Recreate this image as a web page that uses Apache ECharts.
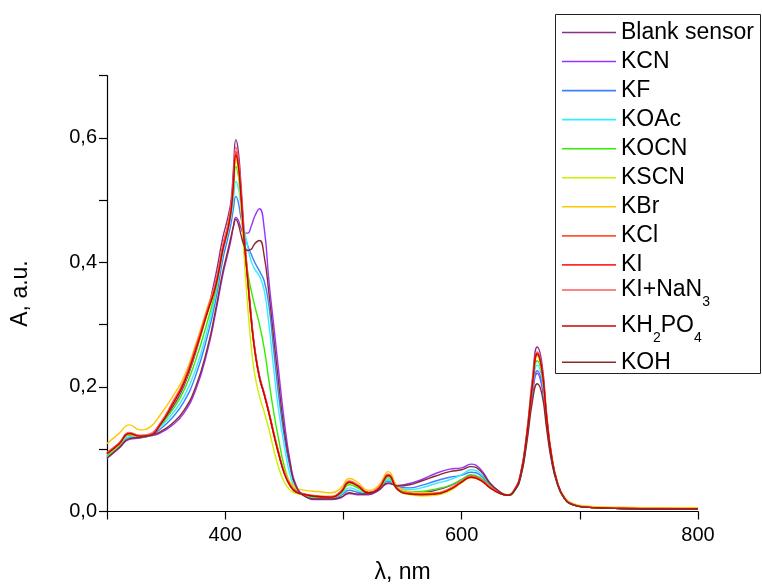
<!DOCTYPE html>
<html>
<head>
<meta charset="utf-8">
<script src="https://cdn.jsdelivr.net/npm/echarts@6/dist/echarts.min.js"></script>
<style>html,body{margin:0;padding:0;background:#fff;}#c{width:762px;height:585px;}</style>
</head>
<body>
<div id="c"></div>
<script>
// wavelength (nm)
const wl = [300,310,319,328,336,345,355,365,375,385,
 392,398,402,405,407,409,411,413,416,419,
 422,425,429,433,437,441,445,450,455,460,
 468,478,490,498,505,512,521,530,538,546,
 556,566,578,590,600,608,616,624,632,639,
 645,650,655,660,664,668,672,676,681,687,
 694,705,730,770,800];

const blank = [0.092,0.107,0.123,0.12,0.122,0.137,0.166,0.201,0.255,0.322,
 0.38,0.44,0.47,0.50,0.55,0.597,0.58,0.535,0.45,0.38,
 0.315,0.262,0.218,0.19,0.16,0.127,0.096,0.063,0.042,0.032,
 0.026,0.023,0.022,0.03,0.046,0.041,0.030,0.037,0.057,0.037,
 0.031,0.031,0.034,0.041,0.051,0.058,0.053,0.04,0.03,0.026,
 0.036,0.062,0.125,0.215,0.264,0.237,0.156,0.093,0.047,0.021,
 0.011,0.007,0.005,0.004,0.004];
const kcn = [0.085,0.101,0.116,0.118,0.121,0.126,0.138,0.158,0.195,0.258,
 0.32,0.38,0.412,0.437,0.458,0.472,0.468,0.457,0.447,0.447,
 0.458,0.474,0.486,0.455,0.37,0.30,0.23,0.145,0.08,0.042,
 0.024,0.019,0.019,0.022,0.029,0.027,0.027,0.034,0.045,0.042,
 0.045,0.051,0.061,0.068,0.07,0.076,0.068,0.046,0.032,0.026,
 0.034,0.057,0.113,0.19,0.222,0.2,0.14,0.085,0.045,0.021,
 0.011,0.007,0.005,0.004,0.004];
const kf = [0.087,0.103,0.119,0.12,0.122,0.132,0.15,0.176,0.218,0.282,
 0.34,0.405,0.437,0.463,0.487,0.506,0.497,0.475,0.447,0.427,
 0.413,0.4,0.386,0.37,0.33,0.26,0.19,0.12,0.07,0.04,
 0.025,0.021,0.021,0.026,0.034,0.031,0.029,0.036,0.049,0.039,
 0.038,0.042,0.049,0.055,0.058,0.063,0.058,0.042,0.031,0.026,
 0.034,0.057,0.115,0.193,0.226,0.206,0.142,0.086,0.045,0.021,
 0.011,0.007,0.005,0.004,0.004];
const koac = [0.088,0.104,0.12,0.12,0.122,0.136,0.156,0.184,0.228,0.292,
 0.35,0.415,0.447,0.474,0.502,0.53,0.52,0.495,0.455,0.425,
 0.402,0.389,0.378,0.355,0.3,0.23,0.165,0.105,0.058,0.036,
 0.025,0.022,0.022,0.028,0.038,0.034,0.029,0.037,0.051,0.038,
 0.035,0.038,0.045,0.051,0.059,0.067,0.061,0.044,0.031,0.026,
 0.034,0.058,0.117,0.198,0.235,0.213,0.145,0.088,0.045,0.021,
 0.011,0.007,0.005,0.004,0.004];
const kocn = [0.09,0.106,0.123,0.121,0.122,0.138,0.162,0.194,0.243,0.305,
 0.357,0.42,0.452,0.482,0.515,0.554,0.54,0.505,0.435,0.385,
 0.355,0.33,0.3,0.262,0.21,0.16,0.118,0.072,0.045,0.033,
 0.026,0.023,0.022,0.03,0.043,0.038,0.03,0.037,0.054,0.036,
 0.031,0.032,0.036,0.042,0.051,0.059,0.054,0.041,0.03,0.026,
 0.034,0.059,0.12,0.203,0.242,0.219,0.147,0.089,0.046,0.021,
 0.011,0.007,0.005,0.004,0.004];
const kscn = [0.092,0.107,0.124,0.12,0.122,0.14,0.17,0.205,0.258,0.318,
 0.362,0.42,0.45,0.483,0.525,0.565,0.548,0.5,0.41,0.33,
 0.265,0.22,0.185,0.16,0.132,0.1,0.072,0.047,0.034,0.029,
 0.027,0.025,0.024,0.032,0.046,0.041,0.03,0.037,0.058,0.034,
 0.027,0.025,0.026,0.033,0.046,0.054,0.05,0.038,0.029,0.026,
 0.034,0.06,0.122,0.207,0.25,0.224,0.149,0.09,0.046,0.022,
 0.012,0.008,0.006,0.006,0.006];
const kbr = [0.109,0.125,0.139,0.131,0.135,0.155,0.183,0.216,0.268,0.328,
 0.368,0.428,0.46,0.49,0.527,0.57,0.555,0.51,0.43,0.37,
 0.305,0.258,0.215,0.188,0.16,0.128,0.098,0.066,0.047,0.038,
 0.034,0.032,0.03,0.038,0.053,0.047,0.034,0.042,0.064,0.04,
 0.032,0.03,0.03,0.036,0.048,0.055,0.051,0.039,0.03,0.027,
 0.035,0.06,0.12,0.205,0.25,0.225,0.15,0.092,0.048,0.024,
 0.013,0.009,0.007,0.006,0.006];
const kcl = [0.094,0.109,0.126,0.122,0.124,0.141,0.171,0.207,0.26,0.321,
 0.364,0.423,0.453,0.486,0.53,0.575,0.56,0.518,0.438,0.373,
 0.308,0.258,0.214,0.187,0.157,0.124,0.094,0.061,0.041,0.031,
 0.027,0.024,0.023,0.032,0.047,0.042,0.030,0.038,0.058,0.035,
 0.029,0.028,0.029,0.036,0.047,0.055,0.051,0.039,0.030,0.026,
 0.035,0.06,0.119,0.204,0.252,0.226,0.149,0.089,0.046,0.021,
 0.011,0.007,0.005,0.004,0.004];
const ki = [0.093,0.108,0.125,0.121,0.123,0.140,0.172,0.208,0.262,0.322,
 0.366,0.425,0.455,0.488,0.533,0.578,0.562,0.52,0.44,0.375,
 0.31,0.26,0.215,0.188,0.158,0.125,0.095,0.062,0.042,0.032,
 0.027,0.024,0.023,0.032,0.048,0.042,0.030,0.038,0.059,0.036,
 0.029,0.028,0.029,0.036,0.048,0.056,0.051,0.039,0.030,0.026,
 0.036,0.06,0.12,0.205,0.254,0.228,0.15,0.09,0.046,0.021,
 0.011,0.007,0.005,0.004,0.004];
const kinan3 = [0.095,0.11,0.127,0.122,0.124,0.142,0.174,0.21,0.264,0.325,
 0.369,0.428,0.458,0.492,0.538,0.585,0.568,0.525,0.444,0.378,
 0.312,0.262,0.217,0.19,0.16,0.127,0.097,0.063,0.043,0.033,
 0.028,0.025,0.024,0.033,0.049,0.043,0.031,0.039,0.06,0.036,
 0.029,0.028,0.029,0.037,0.049,0.057,0.052,0.04,0.031,0.027,
 0.036,0.061,0.121,0.207,0.256,0.23,0.152,0.091,0.047,0.022,
 0.012,0.007,0.005,0.005,0.004];
const kh2po4 = [0.093,0.108,0.125,0.121,0.122,0.139,0.17,0.206,0.259,0.32,
 0.362,0.42,0.45,0.483,0.527,0.572,0.557,0.515,0.436,0.372,
 0.308,0.259,0.215,0.188,0.158,0.125,0.094,0.061,0.041,0.031,
 0.027,0.024,0.023,0.031,0.047,0.041,0.03,0.037,0.058,0.035,
 0.028,0.027,0.028,0.035,0.047,0.055,0.05,0.038,0.029,0.026,
 0.035,0.06,0.12,0.205,0.253,0.227,0.15,0.09,0.046,0.021,
 0.011,0.007,0.005,0.004,0.004];
const koh = [0.086,0.102,0.117,0.119,0.122,0.128,0.141,0.162,0.2,0.263,
 0.325,0.385,0.417,0.442,0.458,0.469,0.462,0.447,0.427,0.419,
 0.421,0.43,0.435,0.41,0.35,0.28,0.21,0.13,0.075,0.04,
 0.024,0.02,0.02,0.023,0.03,0.028,0.028,0.035,0.046,0.041,
 0.043,0.049,0.057,0.064,0.067,0.072,0.065,0.045,0.032,0.026,
 0.034,0.055,0.108,0.178,0.205,0.188,0.132,0.082,0.044,0.021,
 0.011,0.007,0.005,0.004,0.004];

const seriesNames = ['Blank sensor','KCN','KF','KOAc','KOCN','KSCN','KBr','KCl','KI','KI+NaN3','KH2PO4','KOH'];
const seriesValues = [blank,kcn,kf,koac,kocn,kscn,kbr,kcl,ki,kinan3,kh2po4,koh];
const seriesColors = ['#8e2c8e','#9933ff','#3f7fff','#33eeff','#33ee00','#ccf000','#ffc800','#ff5533','#ff2b2b','#ff5a5a','#cc0000','#8b2a2a'];
const xTicks = [400,600,800];
const yTicks = [0.0,0.2,0.4,0.6];

const FONT = '"Liberation Sans", Arial, sans-serif';
const legendLabel = {
  'KI+NaN3': 'KI+NaN{s|3}',
  'KH2PO4': 'KH{s|2}PO{s|4}'
};
const richSub = { s: { fontSize: 14, fontFamily: FONT, color: '#000', lineHeight: 38, padding: [24,0,0,0] } };

function makeLegend(names, top, gap) {
  return {
    data: names, orient: 'vertical', left: 562, top: top, padding: 0,
    icon: 'rect', itemWidth: 54, itemHeight: 1.6, itemGap: gap, selectedMode: false,
    formatter: n => legendLabel[n] || n,
    textStyle: { fontSize: 23, fontFamily: FONT, color: '#000', lineHeight: 22, rich: richSub }
  };
}

const chart = echarts.init(document.getElementById('c'), null, {renderer: 'canvas'});
chart.setOption({
  animation: false,
  backgroundColor: '#fff',
  grid: { left: 107, right: 64, top: 75.5, bottom: 73.5, containLabel: false, outerBoundsMode: 'none' },
  graphic: [{ type: 'rect', z: 0, silent: true,
    shape: { x: 555.5, y: 14.5, width: 205, height: 359 },
    style: { fill: 'transparent', stroke: '#222', lineWidth: 1 } }],
  legend: [
    makeLegend(seriesNames.slice(0, 9), 21, 6.05),
    makeLegend(['KI+NaN3'], 271, 0),
    makeLegend(['KH2PO4'], 307, 0),
    makeLegend(['KOH'], 350.7, 0)
  ],
  xAxis: {
    type: 'value', min: 300, max: 800, interval: 100,
    name: 'λ, nm', nameLocation: 'middle', nameGap: 50,
    nameTextStyle: { fontSize: 23, fontFamily: FONT, color: '#000' },
    axisLine: { lineStyle: { color: '#000', width: 1.2 } },
    axisTick: { length: 8, lineStyle: { color: '#000', width: 1.2 } },
    axisLabel: { margin: 14, fontSize: 20, fontFamily: FONT, color: '#000',
      formatter: v => xTicks.indexOf(v) >= 0 ? String(v) : '' },
    splitLine: { show: false }
  },
  yAxis: {
    type: 'value', min: 0, max: 0.7, interval: 0.1,
    name: 'A, a.u.', nameLocation: 'middle', nameGap: 75,
    nameTextStyle: { fontSize: 23, fontFamily: FONT, color: '#000' },
    axisLine: { show: true, lineStyle: { color: '#000', width: 1.2 } },
    axisTick: { show: true, length: 8, lineStyle: { color: '#000', width: 1.2 } },
    axisLabel: { margin: 10, fontSize: 20, fontFamily: FONT, color: '#000',
      formatter: v => { const r = Math.round(v * 10) / 10; return yTicks.some(t => Math.abs(t - r) < 1e-9) ? r.toFixed(1).replace('.', ',') : ''; } },
    splitLine: { show: false }
  },
  series: seriesNames.map((n, i) => ({
    name: n, type: 'line', symbol: 'none', smooth: 0.5,
    data: wl.map((x, j) => [x, seriesValues[i][j]]),
    lineStyle: { color: seriesColors[i], width: 1.4 },
    itemStyle: { color: seriesColors[i] },
    emphasis: { disabled: true }
  }))
});
</script>
</body>
</html>
